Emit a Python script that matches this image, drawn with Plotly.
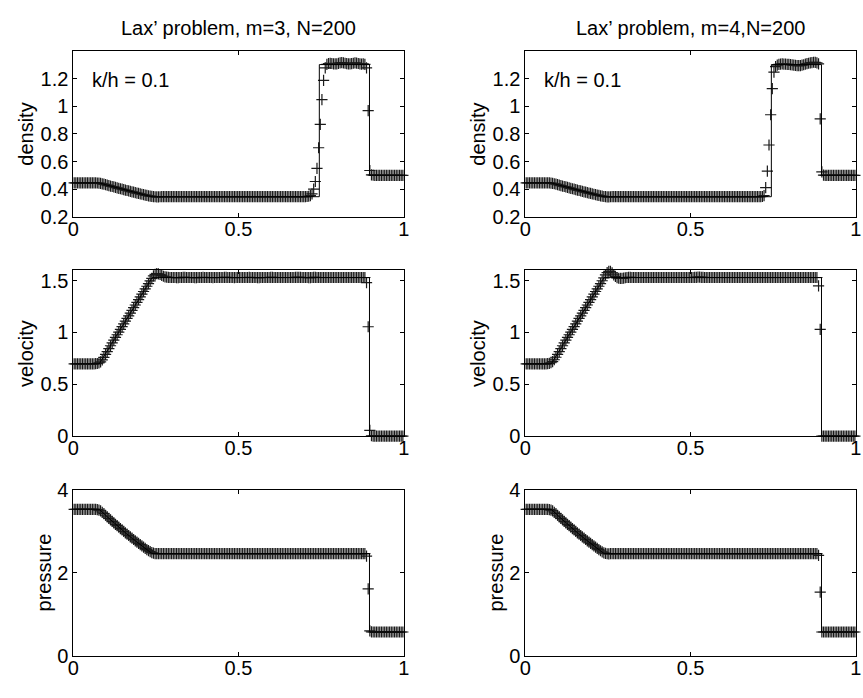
import plotly.graph_objects as go

# ---------------- data ----------------
XS = [
0.0025,0.0075,0.0125,0.0175,0.0225,0.0275,0.0325,0.0375,0.0425,0.0475,
0.0525,0.0575,0.0625,0.0675,0.0725,0.0775,0.0825,0.0875,0.0925,0.0975,
0.1025,0.1075,0.1125,0.1175,0.1225,0.1275,0.1325,0.1375,0.1425,0.1475,
0.1525,0.1575,0.1625,0.1675,0.1725,0.1775,0.1825,0.1875,0.1925,0.1975,
0.2025,0.2075,0.2125,0.2175,0.2225,0.2275,0.2325,0.2375,0.2425,0.2475,
0.2525,0.2575,0.2625,0.2675,0.2725,0.2775,0.2825,0.2875,0.2925,0.2975,
0.3025,0.3075,0.3125,0.3175,0.3225,0.3275,0.3325,0.3375,0.3425,0.3475,
0.3525,0.3575,0.3625,0.3675,0.3725,0.3775,0.3825,0.3875,0.3925,0.3975,
0.4025,0.4075,0.4125,0.4175,0.4225,0.4275,0.4325,0.4375,0.4425,0.4475,
0.4525,0.4575,0.4625,0.4675,0.4725,0.4775,0.4825,0.4875,0.4925,0.4975,
0.5025,0.5075,0.5125,0.5175,0.5225,0.5275,0.5325,0.5375,0.5425,0.5475,
0.5525,0.5575,0.5625,0.5675,0.5725,0.5775,0.5825,0.5875,0.5925,0.5975,
0.6025,0.6075,0.6125,0.6175,0.6225,0.6275,0.6325,0.6375,0.6425,0.6475,
0.6525,0.6575,0.6625,0.6675,0.6725,0.6775,0.6825,0.6875,0.6925,0.6975,
0.7025,0.7075,0.7125,0.7175,0.7225,0.7275,0.7325,0.7375,0.7425,0.7475,
0.7525,0.7575,0.7625,0.7675,0.7725,0.7775,0.7825,0.7875,0.7925,0.7975,
0.8025,0.8075,0.8125,0.8175,0.8225,0.8275,0.8325,0.8375,0.8425,0.8475,
0.8525,0.8575,0.8625,0.8675,0.8725,0.8775,0.8825,0.8875,0.8925,0.8975,
0.9025,0.9075,0.9125,0.9175,0.9225,0.9275,0.9325,0.9375,0.9425,0.9475,
0.9525,0.9575,0.9625,0.9675,0.9725,0.9775,0.9825,0.9875,0.9925,0.9975,
]

RHO_M3 = [
0.445,0.445,0.445,0.445,0.445,0.445,0.445,0.445,0.445,0.445,
0.445,0.445,0.445,0.4448,0.4443,0.4432,0.4412,0.4384,0.4353,0.432,
0.4286,0.4253,0.4219,0.4186,0.4153,0.412,0.4088,0.4055,0.4023,0.3991,
0.3959,0.3928,0.3896,0.3865,0.3834,0.3803,0.3773,0.3743,0.3713,0.3683,
0.3653,0.3623,0.3594,0.3565,0.3537,0.351,0.3486,0.3466,0.3452,0.3444,
0.344,0.344,0.3443,0.345,0.345,0.345,0.345,0.345,0.345,0.345,
0.345,0.345,0.345,0.345,0.345,0.345,0.345,0.345,0.345,0.345,
0.345,0.345,0.345,0.345,0.345,0.345,0.345,0.345,0.345,0.345,
0.345,0.345,0.345,0.345,0.345,0.345,0.345,0.345,0.345,0.345,
0.345,0.345,0.345,0.345,0.345,0.345,0.345,0.345,0.345,0.345,
0.345,0.345,0.345,0.345,0.345,0.345,0.345,0.345,0.345,0.345,
0.345,0.345,0.345,0.345,0.345,0.345,0.345,0.345,0.345,0.345,
0.345,0.345,0.345,0.345,0.345,0.345,0.345,0.345,0.345,0.345,
0.345,0.345,0.345,0.345,0.345,0.345,0.345,0.345,0.345,0.345,
0.345,0.346,0.348,0.352,0.365,0.4,0.455,0.55,0.7,0.87,
1.05,1.19,1.28,1.305,1.312,1.313,1.312,1.31,1.309,1.31,
1.313,1.316,1.318,1.317,1.314,1.311,1.309,1.309,1.311,1.314,
1.316,1.315,1.312,1.309,1.308,1.31,1.306,1.28,0.97,0.535,
0.503,0.501,0.5,0.5,0.5,0.5,0.5,0.5,0.5,0.5,
0.5,0.5,0.5,0.5,0.5,0.5,0.5,0.5,0.5,0.5,
]

RHO_M4 = [
0.445,0.445,0.445,0.445,0.445,0.445,0.445,0.445,0.445,0.445,
0.445,0.445,0.445,0.4449,0.4445,0.4436,0.4416,0.4386,0.4354,0.432,
0.4286,0.4253,0.4219,0.4186,0.4153,0.412,0.4088,0.4055,0.4023,0.3991,
0.3959,0.3928,0.3896,0.3865,0.3834,0.3803,0.3773,0.3743,0.3713,0.3683,
0.3653,0.3623,0.3594,0.3565,0.3537,0.3509,0.3483,0.346,0.3445,0.3438,
0.3438,0.3442,0.3445,0.345,0.345,0.345,0.345,0.345,0.345,0.345,
0.345,0.345,0.345,0.345,0.345,0.345,0.345,0.345,0.345,0.345,
0.345,0.345,0.345,0.345,0.345,0.345,0.345,0.345,0.345,0.345,
0.345,0.345,0.345,0.345,0.345,0.345,0.345,0.345,0.345,0.345,
0.345,0.345,0.345,0.345,0.345,0.345,0.345,0.345,0.345,0.345,
0.345,0.345,0.345,0.345,0.345,0.345,0.345,0.345,0.345,0.345,
0.345,0.345,0.345,0.345,0.345,0.345,0.345,0.345,0.345,0.345,
0.345,0.345,0.345,0.345,0.345,0.345,0.345,0.345,0.345,0.345,
0.345,0.345,0.345,0.345,0.345,0.345,0.345,0.345,0.345,0.345,
0.345,0.345,0.345,0.346,0.352,0.41,0.53,0.72,0.94,1.13,
1.25,1.29,1.3,1.305,1.308,1.309,1.308,1.307,1.306,1.305,
1.304,1.302,1.3,1.298,1.296,1.296,1.297,1.3,1.303,1.307,
1.311,1.314,1.317,1.319,1.321,1.32,1.316,1.31,0.91,0.525,
0.502,0.5,0.5,0.5,0.5,0.5,0.5,0.5,0.5,0.5,
0.5,0.5,0.5,0.5,0.5,0.5,0.5,0.5,0.5,0.5,
]

U_M3 = [
0.698,0.698,0.698,0.698,0.698,0.698,0.698,0.698,0.698,0.698,
0.698,0.698,0.698,0.699,0.701,0.706,0.716,0.735,0.76,0.788,
0.816,0.845,0.872,0.899,0.926,0.952,0.978,1.004,1.03,1.057,
1.083,1.109,1.135,1.161,1.187,1.213,1.239,1.265,1.291,1.317,
1.343,1.369,1.395,1.421,1.446,1.471,1.497,1.522,1.545,1.56,
1.567,1.566,1.559,1.55,1.542,1.536,1.533,1.531,1.53,1.53,
1.53,1.53,1.529,1.529,1.53,1.53,1.531,1.531,1.53,1.53,
1.53,1.53,1.53,1.529,1.529,1.53,1.53,1.53,1.531,1.53,
1.53,1.53,1.53,1.53,1.529,1.53,1.53,1.53,1.53,1.53,
1.53,1.531,1.531,1.53,1.53,1.53,1.53,1.529,1.53,1.53,
1.53,1.53,1.53,1.53,1.53,1.53,1.531,1.53,1.53,1.53,
1.53,1.529,1.529,1.53,1.53,1.53,1.53,1.53,1.53,1.531,
1.531,1.53,1.53,1.53,1.53,1.53,1.53,1.53,1.53,1.53,
1.53,1.53,1.53,1.53,1.531,1.532,1.532,1.531,1.53,1.53,
1.53,1.53,1.529,1.529,1.53,1.531,1.531,1.53,1.53,1.53,
1.53,1.53,1.53,1.53,1.53,1.53,1.53,1.53,1.53,1.53,
1.53,1.53,1.53,1.53,1.53,1.53,1.53,1.53,1.53,1.53,
1.53,1.53,1.53,1.53,1.53,1.53,1.53,1.48,1.055,0.055,
0.004,0.0,0.0,0.0,0.0,0.0,0.0,0.0,0.0,0.0,
0.0,0.0,0.0,0.0,0.0,0.0,0.0,0.0,0.0,0.0,
]

U_M4 = [
0.698,0.698,0.698,0.698,0.698,0.698,0.698,0.698,0.698,0.698,
0.698,0.698,0.698,0.699,0.702,0.708,0.719,0.737,0.761,0.788,
0.816,0.845,0.872,0.899,0.926,0.952,0.978,1.004,1.03,1.057,
1.083,1.109,1.135,1.161,1.187,1.213,1.239,1.265,1.291,1.317,
1.343,1.369,1.395,1.421,1.446,1.472,1.499,1.527,1.555,1.578,
1.59,1.589,1.575,1.556,1.54,1.529,1.523,1.521,1.522,1.525,
1.528,1.53,1.531,1.531,1.53,1.53,1.53,1.53,1.53,1.53,
1.53,1.53,1.53,1.53,1.53,1.53,1.53,1.53,1.53,1.53,
1.53,1.53,1.53,1.53,1.53,1.53,1.53,1.53,1.53,1.53,
1.53,1.53,1.53,1.53,1.53,1.53,1.53,1.53,1.53,1.53,
1.53,1.53,1.531,1.532,1.533,1.533,1.532,1.531,1.53,1.53,
1.53,1.53,1.53,1.53,1.53,1.53,1.53,1.53,1.53,1.53,
1.53,1.53,1.53,1.53,1.53,1.53,1.53,1.53,1.53,1.53,
1.53,1.53,1.53,1.53,1.53,1.53,1.53,1.53,1.53,1.53,
1.53,1.53,1.53,1.53,1.53,1.53,1.53,1.53,1.53,1.53,
1.53,1.53,1.53,1.53,1.53,1.53,1.53,1.53,1.53,1.53,
1.53,1.53,1.53,1.53,1.53,1.53,1.53,1.53,1.53,1.53,
1.53,1.53,1.53,1.53,1.53,1.53,1.53,1.45,1.03,0.0,
0.0,0.0,0.0,0.0,0.0,0.0,0.0,0.0,0.0,0.0,
0.0,0.0,0.0,0.0,0.0,0.0,0.0,0.0,0.0,0.0,
]

P_M3 = [
3.528,3.528,3.528,3.528,3.528,3.528,3.528,3.528,3.528,3.528,
3.528,3.528,3.528,3.527,3.522,3.51,3.488,3.457,3.422,3.385,
3.348,3.311,3.275,3.239,3.203,3.167,3.133,3.098,3.063,3.03,
2.996,2.962,2.929,2.897,2.864,2.832,2.8,2.769,2.738,2.707,
2.676,2.646,2.616,2.586,2.558,2.531,2.506,2.485,2.47,2.462,
2.459,2.459,2.462,2.462,2.462,2.462,2.462,2.462,2.462,2.462,
2.462,2.462,2.462,2.462,2.462,2.462,2.462,2.462,2.462,2.462,
2.462,2.462,2.462,2.462,2.462,2.462,2.462,2.462,2.462,2.462,
2.462,2.462,2.462,2.462,2.462,2.462,2.462,2.462,2.462,2.462,
2.462,2.462,2.462,2.462,2.462,2.462,2.462,2.462,2.462,2.462,
2.462,2.462,2.462,2.462,2.462,2.462,2.462,2.462,2.462,2.462,
2.462,2.462,2.462,2.462,2.462,2.462,2.462,2.462,2.462,2.462,
2.462,2.462,2.462,2.462,2.462,2.462,2.462,2.462,2.462,2.462,
2.462,2.462,2.462,2.462,2.462,2.462,2.462,2.462,2.462,2.462,
2.462,2.462,2.462,2.462,2.462,2.462,2.462,2.462,2.462,2.462,
2.462,2.462,2.462,2.462,2.462,2.462,2.462,2.462,2.462,2.462,
2.462,2.462,2.462,2.462,2.462,2.462,2.462,2.462,2.462,2.462,
2.462,2.462,2.462,2.462,2.462,2.462,2.462,2.4,1.61,0.6,
0.575,0.571,0.571,0.571,0.571,0.571,0.571,0.571,0.571,0.571,
0.571,0.571,0.571,0.571,0.571,0.571,0.571,0.571,0.571,0.571,
]

P_M4 = [
3.528,3.528,3.528,3.528,3.528,3.528,3.528,3.528,3.528,3.528,
3.528,3.528,3.528,3.527,3.522,3.51,3.488,3.457,3.422,3.385,
3.348,3.311,3.275,3.239,3.203,3.167,3.133,3.098,3.063,3.03,
2.996,2.962,2.929,2.897,2.864,2.832,2.8,2.769,2.738,2.707,
2.676,2.646,2.616,2.586,2.557,2.529,2.503,2.48,2.465,2.457,
2.455,2.458,2.462,2.462,2.462,2.462,2.462,2.462,2.462,2.462,
2.462,2.462,2.462,2.462,2.462,2.462,2.462,2.462,2.462,2.462,
2.462,2.462,2.462,2.462,2.462,2.462,2.462,2.462,2.462,2.462,
2.462,2.462,2.462,2.462,2.462,2.462,2.462,2.462,2.462,2.462,
2.462,2.462,2.462,2.462,2.462,2.462,2.462,2.462,2.462,2.462,
2.462,2.462,2.462,2.462,2.462,2.462,2.462,2.462,2.462,2.462,
2.462,2.462,2.462,2.462,2.462,2.462,2.462,2.462,2.462,2.462,
2.462,2.462,2.462,2.462,2.462,2.462,2.462,2.462,2.462,2.462,
2.462,2.462,2.462,2.462,2.462,2.462,2.462,2.462,2.462,2.462,
2.462,2.462,2.462,2.462,2.462,2.462,2.462,2.462,2.462,2.462,
2.462,2.462,2.462,2.462,2.462,2.462,2.462,2.462,2.462,2.462,
2.462,2.462,2.462,2.462,2.462,2.462,2.462,2.462,2.462,2.462,
2.462,2.462,2.462,2.462,2.462,2.462,2.462,2.42,1.53,0.571,
0.571,0.571,0.571,0.571,0.571,0.571,0.571,0.571,0.571,0.571,
0.571,0.571,0.571,0.571,0.571,0.571,0.571,0.571,0.571,0.571,
]

# exact solution (breakpoints)
EXACT_X   = [0.0, 0.0786, 0.10, 0.12, 0.14, 0.16, 0.18, 0.20, 0.22, 0.2383, 0.7446, 0.7446, 0.8964, 0.8964, 1.0]
EXACT_RHO = [0.445, 0.445, 0.4303, 0.4170, 0.4039, 0.3912, 0.3788, 0.3668, 0.3550, 0.3445, 0.3445, 1.304, 1.304, 0.5, 0.5]
EXACT_U   = [0.698, 0.698, 0.8093, 0.9134, 1.0176, 1.1218, 1.2259, 1.3301, 1.4343, 1.529, 1.529, 1.529, 1.529, 0.0, 0.0]
EXACT_P   = [3.528, 3.528, 3.366, 3.221, 3.081, 2.946, 2.816, 2.691, 2.571, 2.462, 2.462, 2.462, 2.462, 0.571, 0.571]

X_TICKS = [0, 0.5, 1]
X_TICKTEXT = ["0", "0.5", "1"]
RHO_TICKS = [0.2, 0.4, 0.6, 0.8, 1.0, 1.2]
RHO_TICKTEXT = ["0.2", "0.4", "0.6", "0.8", "1", "1.2"]
U_TICKS = [0, 0.5, 1, 1.5]
U_TICKTEXT = ["0", "0.5", "1", "1.5"]
P_TICKS = [0, 2, 4]
P_TICKTEXT = ["0", "2", "4"]

TITLES = ["Lax\u2019 problem, m=3, N=200", "Lax\u2019 problem, m=4,N=200"]
YLABELS = ["density", "velocity", "pressure"]
NOTE = "k/h = 0.1"

# ---------------- figure ----------------
W, H = 863, 698
FONT = "Liberation Sans, Arial, Helvetica, sans-serif"
FS = 20

COL_PX = [(68.3, 403.3), (526.7, 861.7)]
ROW_PX = [(41.7, 212.3), (267.7, 439.0), (494.3, 665.7)]
YRANGES = [[0.2, 1.4], [0.0, 1.6], [0.0, 4.0]]
YTICKS = [(RHO_TICKS, RHO_TICKTEXT), (U_TICKS, U_TICKTEXT), (P_TICKS, P_TICKTEXT)]
YLABEL_OFFSET = [48.3, 48.3, 30.0]

numeric = [[RHO_M3, RHO_M4], [U_M3, U_M4], [P_M3, P_M4]]
exact = [EXACT_RHO, EXACT_U, EXACT_P]

fig = go.Figure()
layout = dict(
    width=W, height=H, margin=dict(l=0, r=0, t=0, b=0),
    paper_bgcolor="white", plot_bgcolor="white", showlegend=False,
    font=dict(family=FONT, size=FS, color="black"),
)
annotations = []

for r in range(3):
    for c in range(2):
        k = r * 2 + c + 1
        xs = "" if k == 1 else str(k)
        xa, ya = "x" + xs, "y" + xs
        x0, x1 = COL_PX[c]
        y0, y1 = ROW_PX[r]
        fig.add_trace(go.Scatter(
            x=XS, y=numeric[r][c], mode="markers", xaxis=xa, yaxis=ya,
            marker=dict(symbol="cross-thin", size=8, color="#1a1a1a",
                        line=dict(width=1.2, color="#1a1a1a")),
            cliponaxis=False, hoverinfo="skip"))
        fig.add_trace(go.Scatter(
            x=EXACT_X, y=exact[r], mode="lines", xaxis=xa, yaxis=ya,
            line=dict(color="black", width=1), hoverinfo="skip"))
        axis_common = dict(
            showline=True, linecolor="black", linewidth=1, mirror="ticks",
            ticks="inside", ticklen=4, tickwidth=1, tickcolor="black",
            showgrid=False, zeroline=False,
            tickfont=dict(family=FONT, size=FS, color="black"),
        )
        layout["xaxis" + xs] = dict(
            axis_common, domain=[x0 / W, x1 / W], range=[0, 1],
            tickmode="array", tickvals=X_TICKS, ticktext=X_TICKTEXT, anchor=ya,
            ticklabelstandoff=-6)
        layout["yaxis" + xs] = dict(
            axis_common, domain=[1 - y1 / H, 1 - y0 / H], range=YRANGES[r],
            tickmode="array", tickvals=YTICKS[r][0], ticktext=YTICKS[r][1], anchor=xa)
        annotations.append(dict(
            text=YLABELS[r], xref="paper", yref="paper",
            x=(x0 - YLABEL_OFFSET[r]) / W, y=1 - (y0 + y1) / 2 / H,
            textangle=-90, showarrow=False, xanchor="center", yanchor="middle",
            font=dict(family=FONT, size=FS, color="black")))
        if r == 0:
            annotations.append(dict(
                text=TITLES[c], xref="paper", yref="paper",
                x=(x0 + x1) / 2 / W, y=1 - 18 / H, showarrow=False,
                xanchor="center", yanchor="middle",
                font=dict(family=FONT, size=FS, color="black")))
            annotations.append(dict(
                text=NOTE, xref=xa, yref=ya, x=0.05, y=1.19, showarrow=False,
                xanchor="left", yanchor="middle",
                font=dict(family=FONT, size=FS, color="black")))

layout["annotations"] = annotations
fig.update_layout(**layout)
fig.write_html("out.html")
